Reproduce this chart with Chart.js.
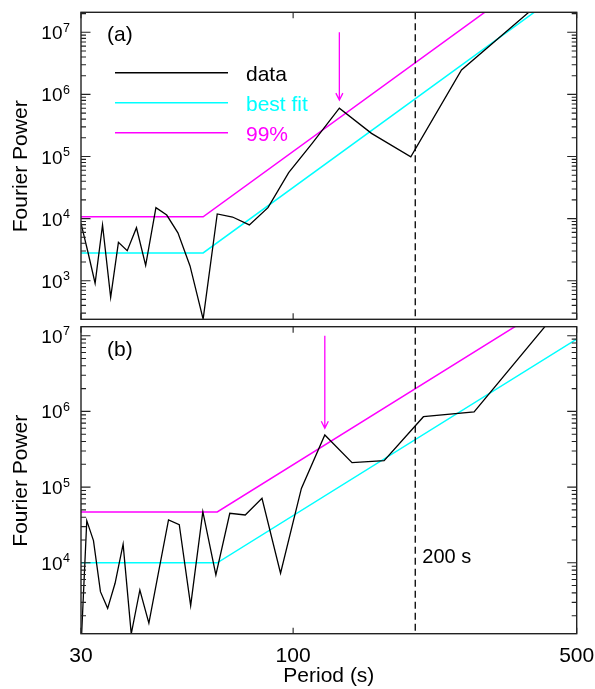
<!DOCTYPE html>
<html>
<head>
<meta charset="utf-8">
<script src="https://cdn.jsdelivr.net/npm/chart.js@4/dist/chart.umd.min.js"></script>
<style>
  html, body { margin: 0; padding: 0; background: #fff; }
  #wrap { position: relative; width: 595px; height: 689px; }
  #wrap canvas { position: absolute; left: 0; top: 0; }
</style>
</head>
<body>
<div id="wrap">
  <canvas id="panelA" width="595" height="689"></canvas>
  <canvas id="panelB" width="595" height="689"></canvas>
</div>
<script>
// ---- Panel (a): Fourier power spectrum ----
const periodsA = [30.0, 31.2, 32.5, 33.9, 35.5, 37.1, 39.0, 41.1, 43.3, 45.9, 48.8, 52.0, 55.7,
                  60.0, 65.0, 70.9, 78.0, 86.7, 97.5, 111.4, 130.0, 156.0, 195.0, 260.0, 390.0];
const powerA   = [8400, 2900, 910, 7900, 540, 4150, 3040, 7130, 1770, 15000, 11400, 5900, 1730,
                  240, 11900, 10600, 7900, 15000, 55000, 163000, 600000, 236000, 99000, 2470000, 24000000];
const fitPeriodsA = [30, 60, 500];
const fitPowerA   = [2800, 2800, 66000000];
const sigPowerA   = [10700, 10700, 250000000];
const arrowA = { period: 130, from: 1e7, to: 8.1e5 };
const yRangeA = [239, 2.1e7];
const yTicksA = [1e3, 1e4, 1e5, 1e6, 1e7];
const yExpA   = ['3', '4', '5', '6', '7'];

// ---- Panel (b): Fourier power spectrum ----
const periodsB = [29.9, 31.0, 32.2, 33.5, 34.9, 36.4, 38.1, 39.9, 41.9, 44.1, 46.6, 49.3, 52.4, 55.9,
                  59.9, 64.5, 69.8, 76.2, 83.8, 93.1, 104.8, 119.7, 139.7, 167.6, 209.5, 279.3, 419.0];
const powerB   = [500, 36000, 19600, 4150, 2500, 5360, 17600, 1150, 4370, 1590, 7600, 36800, 31900, 2710,
                  47300, 6900, 45000, 42800, 71000, 7270, 96000, 488000, 210000, 223000, 851000, 982000, 13500000];
const fitPeriodsB = [30, 65, 500];
const fitPowerB   = [10000, 10000, 9000000];
const sigPowerB   = [46900, 46900, 42400000];
const arrowB = { period: 119.7, from: 1e7, to: 6.0e5 };
const yRangeB = [1156, 1.315e7];
const yTicksB = [1e4, 1e5, 1e6, 1e7];
const yExpB   = ['4', '5', '6', '7'];

// ---- shared axis ----
const xRange = [30, 500];
const xTicks = [30, 100, 500];
const xTickLabels = ['30', '100', '500'];
const markerPeriod = 200;
const minorSteps = [2, 3, 4, 5, 6, 7, 8, 9];

const legendNames = ['data', 'best fit', '99%'];
const BLACK = '#000000', CYAN = '#00ffff', MAGENTA = '#ff00ff';
const FONT = '"Liberation Sans", Arial, Helvetica, sans-serif';

function pts(xs, ys) { return xs.map((x, i) => ({ x: x, y: ys[i] })); }

// Frame, inward ticks, tick labels, marker line, arrow and annotations.
const panelDecor = {
  id: 'panelDecor',
  afterDatasetsDraw(chart, args, o) {
    const ctx = chart.ctx, a = chart.chartArea;
    const xs = chart.scales.x, ys = chart.scales.y;
    ctx.save();

    // vertical dashed marker
    const xm = xs.getPixelForValue(markerPeriod);
    ctx.strokeStyle = BLACK; ctx.lineWidth = 1.3; ctx.setLineDash([7, 4]);
    ctx.beginPath(); ctx.moveTo(xm, a.top); ctx.lineTo(xm, a.bottom); ctx.stroke();
    ctx.setLineDash([]);

    // arrow marking the peak
    const xa = xs.getPixelForValue(o.arrow.period);
    const y0 = ys.getPixelForValue(o.arrow.from), y1 = ys.getPixelForValue(o.arrow.to);
    ctx.strokeStyle = MAGENTA; ctx.lineWidth = 1.3;
    ctx.beginPath();
    ctx.moveTo(xa, y0); ctx.lineTo(xa, y1);
    ctx.moveTo(xa - 3.5, y1 - 7); ctx.lineTo(xa, y1); ctx.lineTo(xa + 3.5, y1 - 7);
    ctx.stroke();

    // frame
    ctx.strokeStyle = '#222'; ctx.lineWidth = 1.4;
    ctx.strokeRect(a.left, a.top, a.right - a.left, a.bottom - a.top);

    // y ticks (major + minor), both sides, pointing inward
    ctx.lineWidth = 1.1;
    const lo = Math.floor(Math.log10(ys.min)), hi = Math.ceil(Math.log10(ys.max));
    ctx.beginPath();
    for (let d = lo; d <= hi; d++) {
      for (const m of minorSteps) {
        const v = m * Math.pow(10, d);
        if (v < ys.min || v > ys.max) continue;
        const y = ys.getPixelForValue(v);
        ctx.moveTo(a.left, y); ctx.lineTo(a.left + 5, y);
        ctx.moveTo(a.right, y); ctx.lineTo(a.right - 5, y);
      }
    }
    o.yTicks.forEach(v => {
      const y = ys.getPixelForValue(v);
      ctx.moveTo(a.left, y); ctx.lineTo(a.left + 9.5, y);
      ctx.moveTo(a.right, y); ctx.lineTo(a.right - 9.5, y);
    });
    // x ticks, top and bottom
    xTicks.forEach(v => {
      const x = xs.getPixelForValue(v);
      ctx.moveTo(x, a.bottom); ctx.lineTo(x, a.bottom - 6);
      ctx.moveTo(x, a.top); ctx.lineTo(x, a.top + 6);
    });
    ctx.stroke();

    // y tick labels 10^n
    ctx.fillStyle = BLACK;
    o.yTicks.forEach((v, i) => {
      const y = ys.getPixelForValue(v);
      ctx.font = '19px ' + FONT; ctx.textAlign = 'right'; ctx.textBaseline = 'alphabetic';
      ctx.fillText('10', 62.5, y + 7);
      ctx.font = '12.5px ' + FONT; ctx.textAlign = 'left';
      ctx.fillText(o.yExp[i], 63, y - 0.5);
    });

    // x tick labels and axis title
    if (o.xLabels) {
      ctx.font = '21px ' + FONT; ctx.textAlign = 'center';
      xTicks.forEach((v, i) => ctx.fillText(xTickLabels[i], xs.getPixelForValue(v), a.bottom + 28));
      ctx.fillText('Period (s)', (a.left + a.right) / 2, 682);
    }

    // y axis title
    ctx.save();
    ctx.translate(26.5, (a.top + a.bottom) / 2 + 0.5);
    ctx.rotate(-Math.PI / 2);
    ctx.font = '21px ' + FONT; ctx.textAlign = 'center'; ctx.textBaseline = 'alphabetic';
    ctx.fillText('Fourier Power', 0, 0);
    ctx.restore();

    // panel tag
    ctx.font = '21px ' + FONT; ctx.textAlign = 'left'; ctx.textBaseline = 'alphabetic';
    ctx.fillText(o.tag, 107, a.top + 29);

    if (o.legend) {
      const cols = [BLACK, CYAN, MAGENTA];
      legendNames.forEach((name, i) => {
        const y = 72.7 + 30 * i;
        ctx.strokeStyle = cols[i]; ctx.lineWidth = 1.5;
        ctx.beginPath(); ctx.moveTo(115, y); ctx.lineTo(228, y); ctx.stroke();
        ctx.fillStyle = cols[i];
        ctx.fillText(name, 246, y + 7.8);
      });
    }
    if (o.markerText) {
      ctx.fillStyle = BLACK; ctx.font = '20px ' + FONT;
      ctx.fillText(o.markerText, xm + 7, 563.3);
    }
    ctx.restore();
  }
};

function makePanel(id, pad, periods, power, fitP, fitV, sigV, yRange, decor) {
  return new Chart(document.getElementById(id), {
    type: 'line',
    data: {
      datasets: [
        { data: pts(periods, power), borderColor: BLACK, borderWidth: 1.3 },
        { data: pts(fitP, fitV), borderColor: CYAN, borderWidth: 1.5 },
        { data: pts(fitP, sigV), borderColor: MAGENTA, borderWidth: 1.5 }
      ]
    },
    options: {
      responsive: false,
      animation: false,
      events: [],
      datasets: { line: { pointRadius: 0, tension: 0, fill: false, clip: 0 } },
      layout: { padding: pad },
      scales: {
        x: { type: 'logarithmic', min: xRange[0], max: xRange[1], display: false },
        y: { type: 'logarithmic', min: yRange[0], max: yRange[1], display: false }
      },
      plugins: { legend: { display: false }, tooltip: { enabled: false }, panelDecor: decor }
    },
    plugins: [panelDecor]
  });
}

makePanel('panelA', { left: 81, right: 18.3, top: 12.3, bottom: 369.7 },
  periodsA, powerA, fitPeriodsA, fitPowerA, sigPowerA, yRangeA,
  { arrow: arrowA, yTicks: yTicksA, yExp: yExpA, tag: '(a)', legend: true, xLabels: false });

makePanel('panelB', { left: 81, right: 18.3, top: 326.7, bottom: 55.3 },
  periodsB, powerB, fitPeriodsB, fitPowerB, sigPowerB, yRangeB,
  { arrow: arrowB, yTicks: yTicksB, yExp: yExpB, tag: '(b)', legend: false, xLabels: true, markerText: '200 s' });
</script>
</body>
</html>
